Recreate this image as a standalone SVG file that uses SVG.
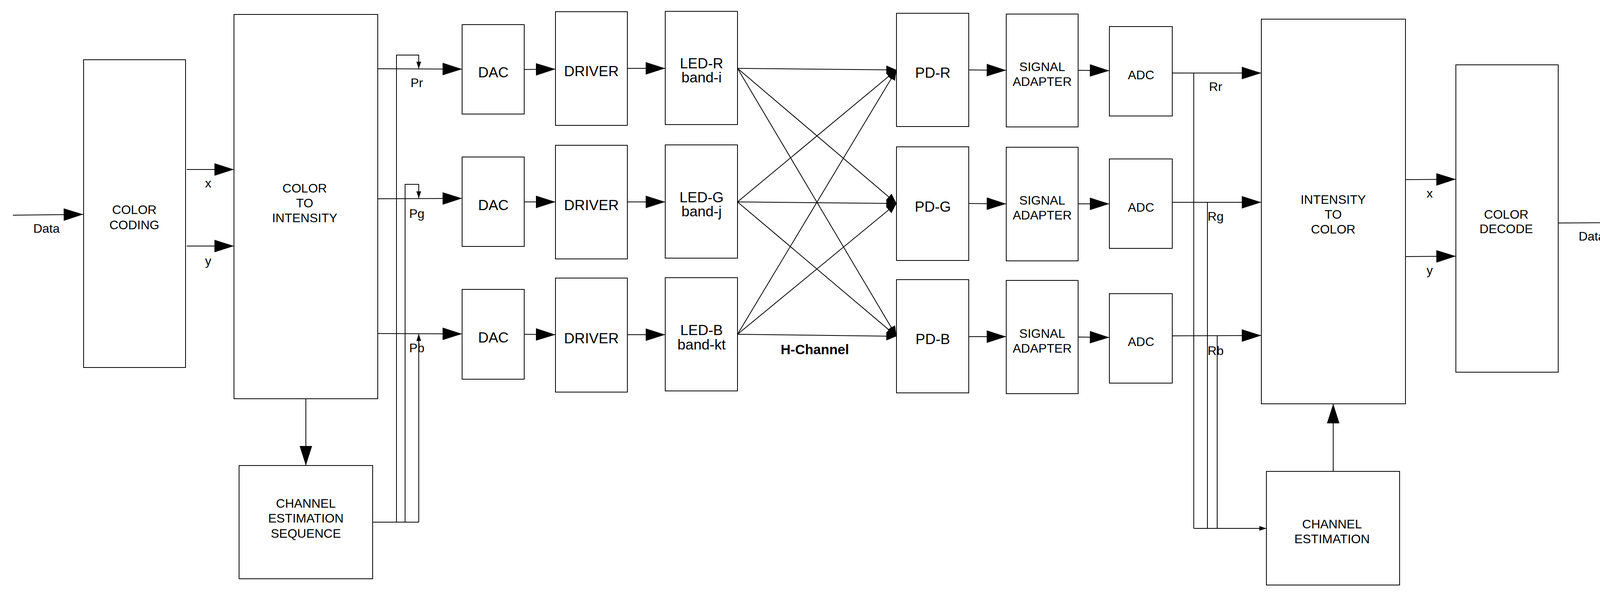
<svg xmlns="http://www.w3.org/2000/svg" width="4187" height="1521" viewBox="0 0 4187 1521">
<style>
.b{fill:#fff;stroke:#000;stroke-width:2}
.t{font-family:"Liberation Sans",Arial,sans-serif;font-size:32px;fill:#000;text-anchor:middle}
.n{font-family:"Liberation Sans Narrow","Liberation Sans",Arial,sans-serif;font-size:37px;fill:#000;text-anchor:middle}
.hb{font-family:"Liberation Sans Narrow","Liberation Sans",Arial,sans-serif;font-size:35px;font-weight:bold;fill:#000;text-anchor:middle}
.c{fill:none;stroke:#000;stroke-width:2}
.a{marker-end:url(#big)}
.s{marker-end:url(#sm)}
.m{marker-end:url(#md)}
</style>
<defs>
<marker id="big" markerUnits="userSpaceOnUse" markerWidth="52" markerHeight="34" refX="50" refY="16" orient="auto"><path d="M0,0 L50,16 L0,32 Z" fill="#000"/></marker>
<marker id="md" markerUnits="userSpaceOnUse" markerWidth="28" markerHeight="24" refX="26" refY="11" orient="auto"><path d="M0,0 L26,11 L0,22 Z" fill="#000"/></marker>
<marker id="sm" markerUnits="userSpaceOnUse" markerWidth="20" markerHeight="14" refX="18" refY="6" orient="auto"><path d="M0,0 L18,6 L0,12 Z" fill="#000"/></marker>
</defs>
<rect width="4187" height="1521" fill="#fff"/>
<g id="connectors">
<path class="c a" d="M33,551 L213,549"/>
<path class="c a" d="M478,434 L599,434"/>
<path class="c a" d="M478,630 L599,630"/>
<path class="c a" d="M783,1021 L783,1192"/>
<path class="c a" d="M967,176 L1183,177"/>
<path class="c a" d="M967,509 L1183,508"/>
<path class="c a" d="M967,854 L1183,855"/>
<path class="c" d="M954,1337 L1072,1337"/>
<path class="c s" d="M1015,1337 L1015,141 L1072,141 L1072,176"/>
<path class="c s" d="M1037,1337 L1037,472 L1072,472 L1072,508"/>
<path class="c s" d="M1072,1337 L1072,855"/>
<path class="c a" d="M1342,178 L1422,177"/>
<path class="c a" d="M1342,517 L1422,517"/>
<path class="c a" d="M1342,856 L1422,857"/>
<path class="c a" d="M1606,175 L1703,175"/>
<path class="c a" d="M1606,517 L1703,517"/>
<path class="c a" d="M1606,857 L1703,857"/>
<path class="c m" d="M1888,175 L2295,179"/>
<path class="c m" d="M1888,175 L2295,521"/>
<path class="c m" d="M1888,175 L2295,861"/>
<path class="c m" d="M1888,517 L2295,179"/>
<path class="c m" d="M1888,517 L2295,521"/>
<path class="c m" d="M1888,517 L2295,861"/>
<path class="c m" d="M1888,856 L2295,179"/>
<path class="c m" d="M1888,856 L2295,521"/>
<path class="c m" d="M1888,856 L2295,861"/>
<path class="c a" d="M2480,179 L2576,180"/>
<path class="c a" d="M2480,521 L2576,522"/>
<path class="c a" d="M2480,862 L2576,862"/>
<path class="c a" d="M2760,180 L2840,181"/>
<path class="c a" d="M2760,522 L2840,522"/>
<path class="c a" d="M2760,863 L2840,864"/>
<path class="c a" d="M3001,187 L3229,187"/>
<path class="c a" d="M3001,518 L3229,518"/>
<path class="c a" d="M3001,860 L3229,859"/>
<path class="c" d="M3056,187 L3056,1353"/>
<path class="c" d="M3091,518 L3091,1353"/>
<path class="c" d="M3116,860 L3116,1353"/>
<path class="c s" d="M3056,1353 L3242,1353"/>
<path class="c a" d="M3413,1207 L3413,1034"/>
<path class="c a" d="M3598,460 L3727,459"/>
<path class="c a" d="M3598,657 L3727,656"/>
<path class="c a" d="M3989,571 L4168,570"/>
</g>
<g id="labels">
<text class="t" x="119" y="596">Data</text>
<text class="t" x="533" y="480">x</text>
<text class="t" x="533" y="679">y</text>
<text class="t" x="1067" y="223">Pr</text>
<text class="t" x="1067" y="558">Pg</text>
<text class="t" x="1067" y="902">Pb</text>
<text class="hb" x="2086" y="907">H-Channel</text>
<text class="t" x="3112" y="233">Rr</text>
<text class="t" x="3112" y="565">Rg</text>
<text class="t" x="3112" y="909">Rb</text>
<text class="t" x="3660" y="506">x</text>
<text class="t" x="3660" y="703">y</text>
<text class="t" x="4075" y="616">Data</text>
</g>
<g id="color-coding"><rect class="b" x="214" y="153" width="261" height="788"/><text class="t" x="344" y="548">COLOR</text><text class="t" x="344" y="587">CODING</text></g>
<g id="color-to-intensity"><rect class="b" x="599" y="37" width="368" height="984"/><text class="t" x="780" y="493">COLOR</text><text class="t" x="780" y="531">TO</text><text class="t" x="780" y="569">INTENSITY</text></g>
<g id="ces"><rect class="b" x="612" y="1192" width="342" height="290"/><text class="t" x="783" y="1300">CHANNEL</text><text class="t" x="783" y="1338">ESTIMATION</text><text class="t" x="783" y="1377">SEQUENCE</text></g>
<g id="dac-r"><rect class="b" x="1183" y="63" width="159" height="229"/><text class="n" x="1263" y="198">DAC</text></g>
<g id="dac-g"><rect class="b" x="1183" y="402" width="159" height="229"/><text class="n" x="1263" y="538">DAC</text></g>
<g id="dac-b"><rect class="b" x="1183" y="741" width="159" height="230"/><text class="n" x="1263" y="877">DAC</text></g>
<g id="driver-r"><rect class="b" x="1422" y="30" width="184" height="291"/><text class="n" x="1514" y="195">DRIVER</text></g>
<g id="driver-g"><rect class="b" x="1422" y="372" width="184" height="291"/><text class="n" x="1514" y="538">DRIVER</text></g>
<g id="driver-b"><rect class="b" x="1422" y="712" width="184" height="292"/><text class="n" x="1514" y="879">DRIVER</text></g>
<g id="led-r"><rect class="b" x="1703" y="29" width="185" height="290"/><text class="n" x="1796" y="175">LED-R</text><text class="n" x="1796" y="211">band-i</text></g>
<g id="led-g"><rect class="b" x="1703" y="371" width="185" height="290"/><text class="n" x="1796" y="518">LED-G</text><text class="n" x="1796" y="554">band-j</text></g>
<g id="led-b"><rect class="b" x="1703" y="711" width="185" height="290"/><text class="n" x="1796" y="858">LED-B</text><text class="n" x="1796" y="895">band-kt</text></g>
<g id="pd-r"><rect class="b" x="2295" y="34" width="185" height="290"/><text class="n" x="2388" y="199">PD-R</text></g>
<g id="pd-g"><rect class="b" x="2295" y="376" width="185" height="291"/><text class="n" x="2388" y="542">PD-G</text></g>
<g id="pd-b"><rect class="b" x="2295" y="716" width="185" height="290"/><text class="n" x="2388" y="881">PD-B</text></g>
<g id="sa-r"><rect class="b" x="2576" y="36" width="184" height="289"/><text class="t" x="2668" y="182">SIGNAL</text><text class="t" x="2668" y="220">ADAPTER</text></g>
<g id="sa-g"><rect class="b" x="2576" y="377" width="184" height="291"/><text class="t" x="2668" y="524">SIGNAL</text><text class="t" x="2668" y="562">ADAPTER</text></g>
<g id="sa-b"><rect class="b" x="2576" y="718" width="184" height="290"/><text class="t" x="2668" y="865">SIGNAL</text><text class="t" x="2668" y="903">ADAPTER</text></g>
<g id="adc-r"><rect class="b" x="2840" y="68" width="161" height="229"/><text class="t" x="2921" y="203">ADC</text></g>
<g id="adc-g"><rect class="b" x="2840" y="407" width="161" height="229"/><text class="t" x="2921" y="542">ADC</text></g>
<g id="adc-b"><rect class="b" x="2840" y="752" width="161" height="229"/><text class="t" x="2921" y="886">ADC</text></g>
<g id="intensity-to-color"><rect class="b" x="3229" y="49" width="369" height="985"/><text class="t" x="3413" y="522">INTENSITY</text><text class="t" x="3413" y="560">TO</text><text class="t" x="3413" y="598">COLOR</text></g>
<g id="channel-estimation"><rect class="b" x="3242" y="1207" width="341" height="291"/><text class="t" x="3410" y="1353">CHANNEL</text><text class="t" x="3410" y="1391">ESTIMATION</text></g>
<g id="color-decode"><rect class="b" x="3727" y="166" width="262" height="787"/><text class="t" x="3856" y="560">COLOR</text><text class="t" x="3856" y="597">DECODE</text></g>
</svg>
